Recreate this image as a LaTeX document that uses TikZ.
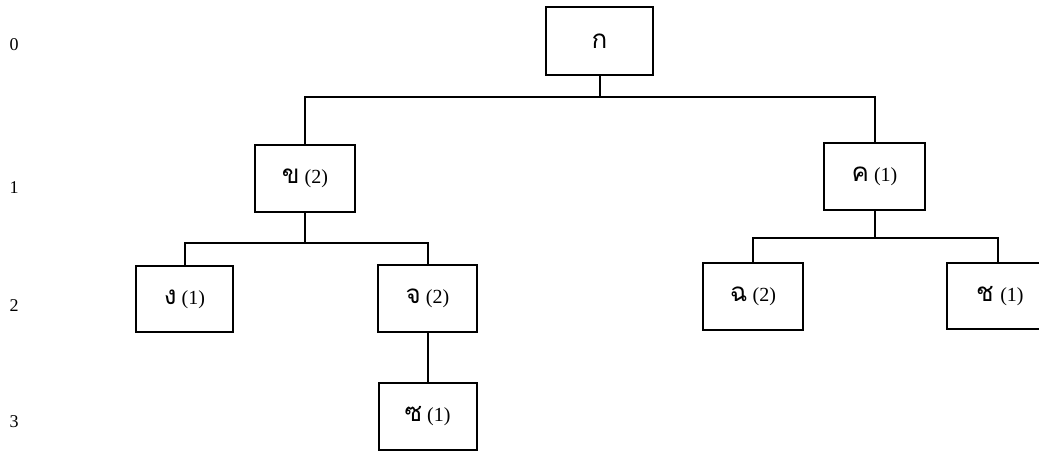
\documentclass[tikz,border=0pt]{standalone}
\usepackage{fontspec}
\setmainfont{Liberation Serif}
\newfontfamily\thaifont[Script=Thai,Scale=1.3]{Loma}
\begin{document}
\begin{tikzpicture}[x=1pt,y=-1pt,
  box/.style={draw=black,line width=2pt,fill=white,inner sep=0pt,font=\fontsize{20}{24}\selectfont},
  conn/.style={draw=black,line width=2pt},
  lvl/.style={font=\fontsize{18}{20}\selectfont,inner sep=0pt}]
\useasboundingbox (0,0) rectangle (1039,452);
\clip (0,0) rectangle (1039,452);
\fill[white] (0,0) rectangle (1039,452);
% level labels
\node[lvl] (l0) at (14,45) {0};
\node[lvl] (l1) at (14,188) {1};
\node[lvl] (l2) at (14,306) {2};
\node[lvl] (l3) at (14,422) {3};
% boxes
\node[box,minimum width=107pt,minimum height=68pt] (ko) at (599.5,41) {{\thaifont ก}};
\node[box,minimum width=100pt,minimum height=67pt] (kho) at (305,178.5) {{\thaifont ข} (2)};
\node[box,minimum width=101pt,minimum height=67pt] (kkh) at (874.5,176.5) {{\thaifont ค} (1)};
\node[box,minimum width=97pt,minimum height=66pt] (ngo) at (184.5,299) {{\thaifont ง} (1)};
\node[box,minimum width=99pt,minimum height=67pt] (cho) at (427.5,298.5) {{\thaifont จ} (2)};
\node[box,minimum width=100pt,minimum height=67pt] (chi) at (753,296.5) {{\thaifont ฉ} (2)};
\node[box,minimum width=102pt,minimum height=66pt,text width=90pt,align=left] (chc) at (998,296) {\hspace*{23pt}{\thaifont ช} (1)};
\node[box,minimum width=98pt,minimum height=67pt] (so) at (427.5,416.5) {{\thaifont ซ} (1)};
% bus coordinates
\coordinate (b0) at (0,97);
\coordinate (b1) at (0,243);
\coordinate (b2) at (0,238);
% connectors
\draw[conn] (ko.south) -- (ko.south |- b0);
\draw[conn] (kho.north) |- (kkh.north |- b0) -- (kkh.north);
\draw[conn] (kho.south) -- (kho.south |- b1);
\draw[conn] (ngo.north) |- (cho.north |- b1) -- (cho.north);
\draw[conn] (kkh.south) -- (kkh.south |- b2);
\draw[conn] (chi.north) |- (chc.north |- b2) -- (chc.north);
\draw[conn] (cho.south) -- (so.north);
\end{tikzpicture}
\end{document}
